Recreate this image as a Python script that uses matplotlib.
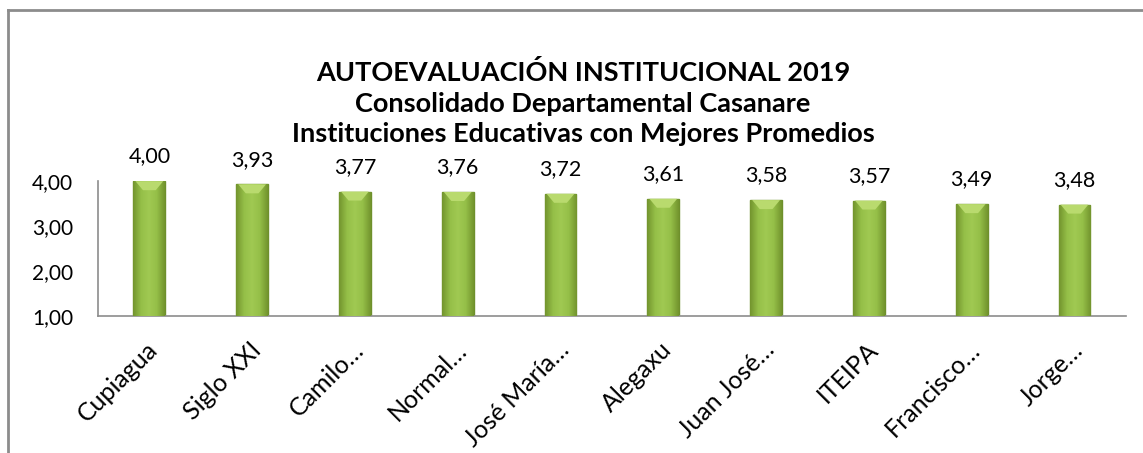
import numpy as np
import matplotlib
matplotlib.use("Agg")
import matplotlib.pyplot as plt
import matplotlib.transforms as mtransforms
from matplotlib.colors import LinearSegmentedColormap
from matplotlib.lines import Line2D

plt.rcParams['font.family'] = ['Lato', 'DejaVu Sans']

instituciones = ['Cupiagua', 'Siglo XXI', 'Camilo…', 'Normal…', 'José María…',
                 'Alegaxu', 'Juan José…', 'ITEIPA', 'Francisco…', 'Jorge…']
promedios = [4.00, 3.93, 3.77, 3.76, 3.72, 3.61, 3.58, 3.57, 3.49, 3.48]
yticks = [1.0, 2.0, 3.0, 4.0]

titulo = ('AUTOEVALUACIÓN INSTITUCIONAL 2019\n'
          'Consolidado Departamental Casanare\n'
          'Instituciones Educativas con Mejores Promedios')

fig = plt.figure(figsize=(11.43, 4.53), dpi=100)
ax = fig.add_axes([0.0857, 0.302, 0.8993, 0.298])

x = np.arange(len(instituciones))
bars = ax.bar(x, np.array(promedios) - 1.0, bottom=1.0, width=0.31,
              color='#93BD46', edgecolor='#6E902C', linewidth=1.0, zorder=2)

# horizontal gradient inside each bar to mimic the bevel look
grad_cmap = LinearSegmentedColormap.from_list(
    'bevel', ['#73952E', '#95BF48', '#A0C952', '#95BF48', '#73952E'])
grad = np.linspace(0, 1, 64).reshape(1, -1)
for b in bars:
    x0, y0 = b.get_x(), b.get_y()
    w, h = b.get_width(), b.get_height()
    im = ax.imshow(grad, cmap=grad_cmap, aspect='auto',
                   extent=[x0, x0 + w, y0, y0 + h], zorder=3)
    im.set_clip_path(b)
    # lighter top bevel
    ax.fill([x0 + 0.02, x0 + w - 0.02, x0 + w * 0.7, x0 + w * 0.3],
            [y0 + h, y0 + h, y0 + h - 0.2, y0 + h - 0.2],
            color='#B9DA6E', zorder=4, linewidth=0)

for xi, v in zip(x, promedios):
    ax.annotate(f'{v:.2f}'.replace('.', ','), (xi, v), xytext=(0, 13.5),
                textcoords='offset points', ha='center', va='baseline',
                fontsize=15.5, color='#000000', annotation_clip=False)

ax.set_xlim(-0.5, len(instituciones) - 0.5)
ax.set_ylim(1.0, 4.0)
ax.set_yticks(yticks)
ax.set_yticklabels([f'{t:.2f}'.replace('.', ',') for t in yticks], fontsize=15)
ax.set_xticks(x)
ax.set_xticklabels(instituciones, rotation=45, ha='right', va='center',
                   rotation_mode='anchor', fontsize=18)
ax.tick_params(axis='y', length=0, pad=18)
ax.tick_params(axis='x', length=0, pad=0)
shift = mtransforms.ScaledTranslation(5 / 100, -30 / 100, fig.dpi_scale_trans)
for lab in ax.get_xticklabels():
    lab.set_transform(lab.get_transform() + shift)

for s in ['top', 'right']:
    ax.spines[s].set_visible(False)
ax.spines['left'].set_color('#8C8C8C')
ax.spines['bottom'].set_color('#8C8C8C')
ax.spines['left'].set_linewidth(1.2)
ax.spines['bottom'].set_linewidth(1.2)

fig.text(0.51, 0.772, titulo, ha='center', va='center', fontsize=19.5,
         fontweight='bold', linespacing=1.32)

# chart area frame (top and left edges visible)
fig.add_artist(Line2D([8 / 1143, 1.0], [1 - 10 / 453, 1 - 10 / 453],
                      color='#8C8C8C', linewidth=2))
fig.add_artist(Line2D([8 / 1143, 8 / 1143], [0, 1 - 10 / 453],
                      color='#8C8C8C', linewidth=2))

fig.savefig('out.png', dpi=100)
